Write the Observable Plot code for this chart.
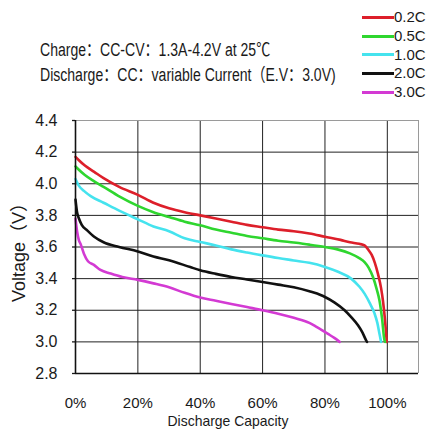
<!DOCTYPE html>
<html><head><meta charset="utf-8">
<script src="https://cdn.jsdelivr.net/npm/d3@7"></script>
<script src="https://cdn.jsdelivr.net/npm/@observablehq/plot@0.6"></script>
<style>
body{margin:0;background:#fff;font-family:"Liberation Sans","Noto Sans CJK SC",Arial,sans-serif;}
#wrap{position:relative;width:431px;height:438px;overflow:hidden;background:#fff;}
.t{position:absolute;white-space:nowrap;color:#1a1a1a;line-height:18px;font-family:"Liberation Sans","Noto Sans CJK SC",Arial,sans-serif;}
</style></head><body><div id="wrap"></div>
<script>
const rates = ["0.2C","0.5C","1.0C","2.0C","3.0C"];
const xTicks = [0,20,40,60,80,100];
const yTicks = [2.8,3.0,3.2,3.4,3.6,3.8,4.0,4.2,4.4];
const titleLines = ["Charge：CC-CV：1.3A-4.2V at 25℃","Discharge：CC：variable Current（E.V：3.0V)"];
const xLabel = "Discharge Capacity";
const yLabel = "Voltage（V）";

const cap02 = [0,1,3,6,9,14,20,25,30,35,40,45,50,55,60,65,70,75,80,85,88,91,92.7,94,95,96,97,98,98.6,99.2,99.7,99.8];
const v02   = [4.17,4.15,4.115,4.075,4.035,3.98,3.93,3.88,3.845,3.82,3.80,3.78,3.76,3.74,3.725,3.71,3.70,3.685,3.665,3.645,3.63,3.62,3.61,3.58,3.55,3.50,3.43,3.34,3.26,3.15,3.03,3.0];
const cap05 = [0,1,3,6,9,14,20,25,30,35,40,45,50,55,60,65,70,75,80,84,88,91,92.7,94,95.4,96.5,97.5,98.3,99.1,99.3];
const v05   = [4.11,4.09,4.055,4.015,3.98,3.92,3.86,3.82,3.79,3.76,3.737,3.71,3.69,3.67,3.655,3.64,3.628,3.615,3.60,3.585,3.56,3.53,3.505,3.47,3.41,3.34,3.26,3.15,3.01,3.0];
const cap10 = [0,1,2.7,5,9,14,20,25,30,35,40,45,50,55,60,65,70,75,80,84,88.4,91,92.7,94.5,95.9,96.8,97.5,98];
const v10   = [4.03,3.99,3.955,3.92,3.88,3.83,3.775,3.73,3.70,3.655,3.632,3.61,3.585,3.565,3.547,3.53,3.515,3.50,3.474,3.445,3.40,3.35,3.305,3.24,3.18,3.12,3.05,3.0];
const cap20 = [0,0.5,1.1,2,3.75,6,9,14,20,25,30,36.8,40,45,50,55,60,65,70,75,78.8,80,83,86.3,88.5,90.6,92,93.2,93.5];
const v20   = [3.90,3.82,3.78,3.74,3.705,3.665,3.63,3.60,3.572,3.54,3.516,3.473,3.453,3.43,3.41,3.395,3.379,3.362,3.345,3.32,3.295,3.284,3.25,3.20,3.155,3.105,3.06,3.01,3.0];
const cap30 = [0,0.5,1.1,1.6,2.7,4,5.9,8,11.3,15,20,25,30,35,40,45,50,55,60,65,70,75,77,79,81,83,84.7];
const v30   = [3.78,3.70,3.642,3.62,3.558,3.51,3.487,3.455,3.432,3.41,3.392,3.37,3.345,3.31,3.28,3.26,3.24,3.22,3.20,3.178,3.152,3.12,3.098,3.075,3.05,3.025,3.0];

const colors = ["#dd1f2a","#2fd62f","#45e3ee","#111111","#d33ad3"];

const series = [[cap02,v02],[cap05,v05],[cap10,v10],[cap20,v20],[cap30,v30]];
const rows = series.flatMap(([c,v],i) => c.map((x,j) => ({rate: rates[i], cap: x, v: v[j]})));

const chart = Plot.plot({
  width: 431, height: 438,
  marginTop: 120, marginLeft: 75, marginRight: 13, marginBottom: 65,
  style: {fontFamily: '"Liberation Sans", Arial, sans-serif', color: "#1a1a1a", background: "#fff"},
  x: {domain: [0,110]},
  y: {domain: [2.8,4.4]},
  color: {domain: rates, range: colors},
  marks: [
    Plot.ruleX(xTicks.slice(1), {stroke: "#222", strokeWidth: 1}),
    Plot.ruleY(yTicks.slice(1,-1), {stroke: "#222", strokeWidth: 1}),
    Plot.ruleY([4.4], {stroke: "#9a9a9a", strokeWidth: 1}),
    Plot.ruleX([110], {stroke: "#9a9a9a", strokeWidth: 1}),
    Plot.axisX({ticks: xTicks, tickFormat: d => d + "%", tickSize: 0, tickPadding: 24, fontSize: 15, label: null}),
    Plot.axisY({ticks: yTicks, tickFormat: d3.format(".1f"), tickSize: 3, tickPadding: 15, fontSize: 16, label: null, strokeWidth: 1.3}),
    Plot.line(rows, {x: "cap", y: "v", z: "rate", stroke: "rate", strokeWidth: 2.6, curve: "monotone-x"}),
    Plot.ruleX([0], {stroke: "#111", strokeWidth: 1.6}),
    Plot.ruleY([2.8], {stroke: "#111", strokeWidth: 1.6})
  ]
});
const wrap = document.getElementById("wrap");
wrap.appendChild(chart);

function addText(txt, css) {
  const d = document.createElement("div");
  d.className = "t";
  d.textContent = txt;
  Object.assign(d.style, css);
  wrap.appendChild(d);
  return d;
}
// title lines
addText(titleLines[0], {left: "40px", top: "41px", fontSize: "18px", transform: "scaleX(0.78)", transformOrigin: "0 0"});
addText(titleLines[1], {left: "40px", top: "66px", fontSize: "18px", transform: "scaleX(0.78)", transformOrigin: "0 0"});
// legend
rates.forEach((r, i) => {
  const cy = 17.3 + i * 18.7;
  const ln = document.createElement("div");
  Object.assign(ln.style, {position: "absolute", left: "362px", top: (cy - 1.5) + "px", width: "32px", height: "3px", background: colors[i]});
  wrap.appendChild(ln);
  addText(r, {left: "394px", top: (cy - 9) + "px", fontSize: "15px"});
});
// axis titles
addText(xLabel, {left: "228px", top: "412px", fontSize: "15px", transform: "translateX(-50%) scaleX(0.93)"});
addText(yLabel, {left: "19px", top: "248px", fontSize: "18px", transform: "translate(-50%,-50%) rotate(-90deg)"});
</script>
</body></html>
